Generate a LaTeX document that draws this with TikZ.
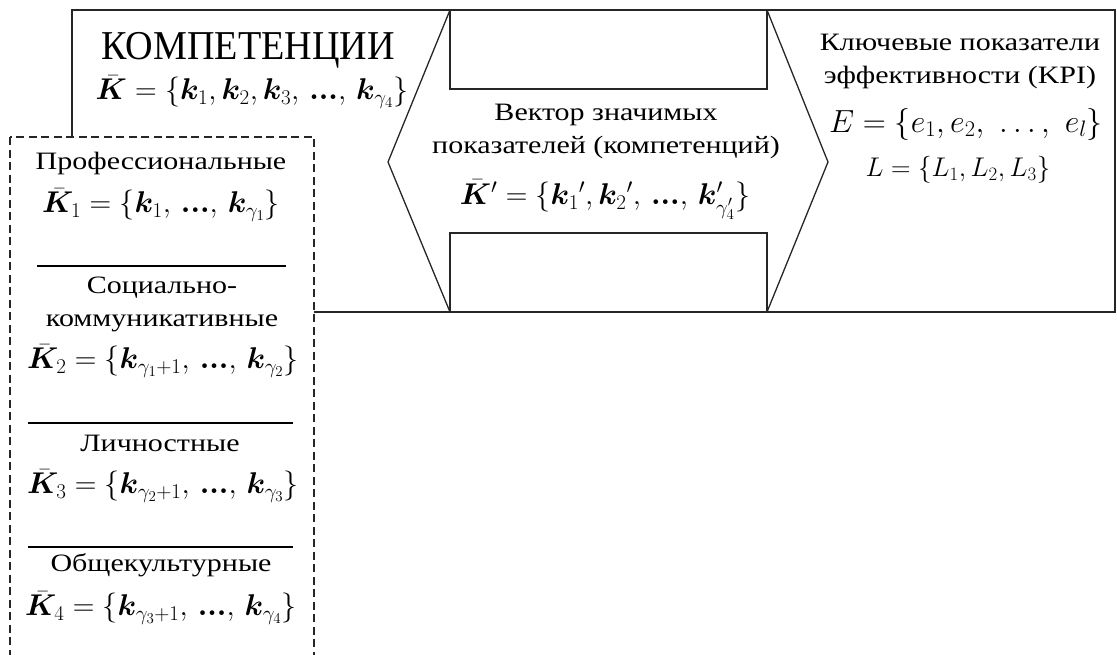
\RequirePackage{fix-cm}
\documentclass[tikz,border=0pt]{standalone}
\usepackage{amsmath,amssymb}
\usepackage{bm}
\usepackage{fontspec}
\setmainfont[FakeStretch=1.2]{Liberation Serif}
\newfontfamily\bigfont[FakeStretch=0.93]{Liberation Serif}
\usepackage{tikz}
\usetikzlibrary{positioning,calc}

\newcommand{\fsz}[2]{\fontsize{#1}{#2}\selectfont}

\begin{document}
\begin{tikzpicture}[x=1pt,y=-1pt,
    frame/.style={line width=1.3pt,black!85},
    dashbox/.style={line width=1.2pt,black!85,dash pattern=on 8pt off 4.5pt,fill=white},
    sepline/.style={line width=1.1pt},
    title/.style={align=center,inner sep=0pt,font=\fsz{25}{33}},
    setf/.style={inner sep=0pt,font=\fsz{30}{32}}]
  \useasboundingbox (0,0) rectangle (1117,654);

  % общая рамка
  \draw[frame] (72,10) rectangle (1115,312);

  % двусторонняя стрелка
  \coordinate (aTL) at (450,10);
  \coordinate (aBL) at (450,312);
  \coordinate (aTR) at (767,10);
  \coordinate (aBR) at (767,312);
  \coordinate (tipL) at (388,162);
  \coordinate (tipR) at (828,162);
  \draw[frame] (aTL) -- (tipL) -- (aBL);
  \draw[frame] (aTR) -- (tipR) -- (aBR);
  \draw[frame] (aTL) rectangle (767,89);
  \draw[frame] (450,233) rectangle (aBR);

  % пунктирный блок групп компетенций
  \draw[dashbox] (10,137) rectangle (314,665);

  % разделители
  \draw[sepline] (37,266) -- (286,266);
  \draw[sepline] (28,423) -- (293,423);
  \draw[sepline] (28,547) -- (293,547);

  % компетенции
  \node[title,font=\bigfont\fsz{41}{42}] (compT) at (248,50) {КОМПЕТЕНЦИИ};
  \node[setf] (compS) at (252,92)
    {$\bar{\bm K}=\{\bm k_1,\bm k_2,\bm k_3,\,\bm{...},\,\bm k_{\gamma_4}\}$};

  % группы
  \node[title] (profT) at (161,163) {Профессиональные};
  \node[setf] (profS) at (161,205)
    {$\bar{\bm K}_1=\{\bm k_1,\,\bm{...},\,\bm k_{\gamma_1}\}$};

  \node[title] (socT) at (162,304) {Социально-\\коммуникативные};
  \node[setf] (socS) at (163,361)
    {$\bar{\bm K}_2=\{\bm k_{\gamma_1+1},\,\bm{...},\,\bm k_{\gamma_2}\}$};

  \node[title] (persT) at (160,443) {Личностные};
  \node[setf] (persS) at (163,486)
    {$\bar{\bm K}_3=\{\bm k_{\gamma_2+1},\,\bm{...},\,\bm k_{\gamma_3}\}$};

  \node[title] (cultT) at (161,565) {Общекультурные};
  \node[setf] (cultS) at (161,608)
    {$\bar{\bm K}_4=\{\bm k_{\gamma_3+1},\,\bm{...},\,\bm k_{\gamma_4}\}$};

  % вектор значимых показателей
  \node[title] (vecT) at (606,131)
    {Вектор значимых\\показателей (компетенций)};
  \node[setf] (vecS) at (605,200)
    {$\bar{\bm K}'=\{\bm k_1{}',\bm k_2{}',\,\bm{...},\,\bm k'_{\gamma'_4}\}$};

  % KPI
  \node[title] (kpiT) at (960,61)
    {Ключевые показатели\\эффективности (KPI)};
  \node[inner sep=0pt,font=\fsz{32}{34}] (kpiE) at (966,124)
    {$E=\{e_1,e_2,\ \ldots,\ e_l\}$};
  \node[inner sep=0pt,font=\fsz{27}{28}] (kpiL) at (958,170)
    {$L=\{L_1,L_2,L_3\}$};
\end{tikzpicture}
\end{document}
